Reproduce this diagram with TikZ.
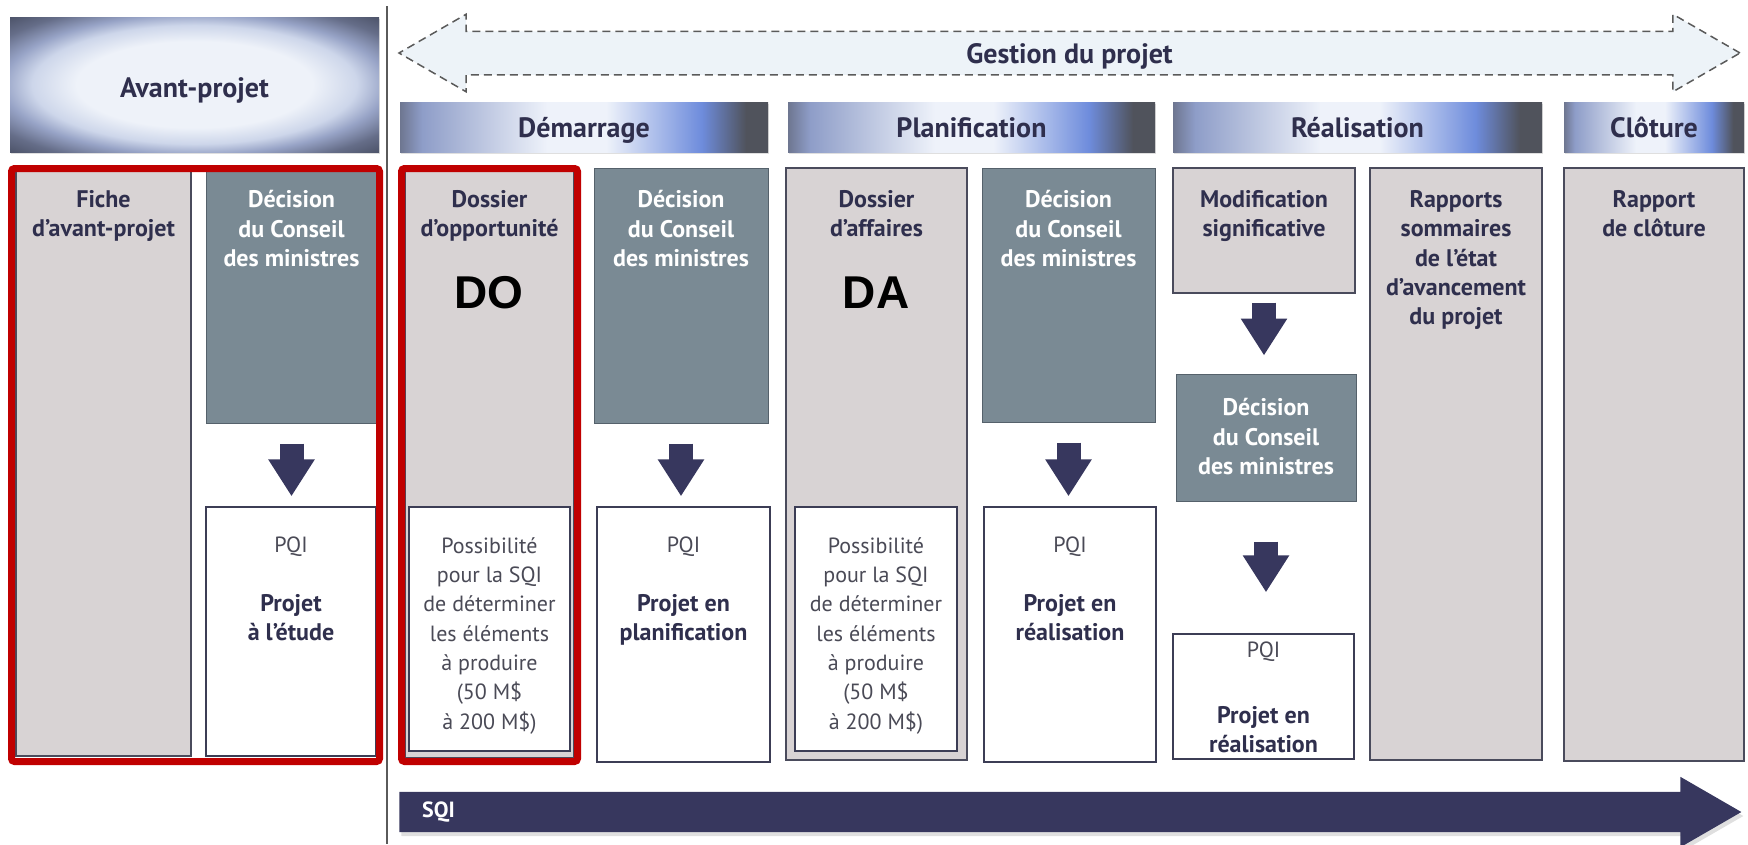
\documentclass[tikz,border=0pt]{standalone}
\usepackage{fontspec}
\setmainfont{PT Sans}
\newfontfamily\tagfont{Liberation Sans}
\usetikzlibrary{shapes,shapes.arrows,arrows.meta,calc,fit,positioning,shadows}

\definecolor{navy}{HTML}{37375E}
\definecolor{txtdark}{HTML}{2F2F4D}
\definecolor{txtgray}{HTML}{4A4A56}
\definecolor{council}{HTML}{7A8A94}
\definecolor{councilline}{HTML}{55616B}
\definecolor{colgray}{HTML}{D8D3D4}
\definecolor{colline}{HTML}{4A4B5C}
\definecolor{pqiline}{HTML}{3C3D55}
\definecolor{framered}{HTML}{C00000}
\definecolor{gestfill}{HTML}{EDF3F8}
\definecolor{gestline}{HTML}{5A5A5A}
\definecolor{hdA}{HTML}{6E7690}
\definecolor{hdB}{HTML}{8E9DC8}
\definecolor{hdC}{HTML}{EEF2FA}
\definecolor{hdD}{HTML}{6E8CDC}
\definecolor{hdE}{HTML}{50535C}
\definecolor{avC}{HTML}{EEF2F9}
\definecolor{avL}{HTML}{CDD6EA}
\definecolor{avM}{HTML}{97A3C6}
\definecolor{avE}{HTML}{656D88}
\definecolor{avK}{HTML}{444A5E}

\pgfdeclarehorizontalshading{phasebar}{100bp}{color(0bp)=(hdA); color(25bp)=(hdA); color(28bp)=(hdB); color(45bp)=(hdC); color(53bp)=(hdC); color(66bp)=(hdD); color(72bp)=(hdE); color(75bp)=(hdE); color(100bp)=(hdE)}
\pgfdeclareradialshading{avantglow}{\pgfpoint{0bp}{0bp}}{color(0bp)=(avC); color(16bp)=(avC); color(22bp)=(avL); color(26bp)=(avM); color(31bp)=(avE); color(37bp)=(avK); color(50bp)=(avK)}

\newcommand{\titlefont}{\fontsize{24pt}{29.3pt}\selectfont\bfseries}
\newcommand{\bodyfont}{\fontsize{22pt}{29.3pt}\selectfont}
\newcommand{\hdfont}{\fontsize{28pt}{32pt}\selectfont\bfseries}
\newcommand{\pj}[1]{{\fontsize{24pt}{29.3pt}\selectfont\bfseries\color{txtdark}#1}}

\tikzset{
    col/.style={draw=colline, fill=colgray, line width=1.4pt, inner sep=0pt},
    council/.style={draw=councilline, fill=council, line width=1pt, inner sep=0pt},
    pqi/.style={draw=pqiline, fill=white, line width=1.4pt, inner sep=0pt},
    frame/.style={draw=framered, line width=7pt, rounded corners=3pt, inner sep=0pt},
    phase/.style={shade, shading=phasebar, inner sep=0pt,
        drop shadow={opacity=0.25, shadow xshift=1pt, shadow yshift=-2pt}},
    avanthd/.style={shade, shading=avantglow, inner sep=0pt,
        drop shadow={opacity=0.25, shadow xshift=1pt, shadow yshift=-2pt}},
    hdtext/.style={inner sep=0pt, font=\hdfont, text=txtdark},
    coltitle/.style={align=center, inner sep=0pt, font=\titlefont, text=txtdark},
    wtitle/.style={coltitle, text=white},
    pqitext/.style={align=center, inner sep=0pt, font=\bodyfont, text=txtgray},
    bigtag/.style={inner sep=0pt, font=\tagfont\fontsize{46pt}{50pt}\selectfont\bfseries, text=black},
    fatarrow/.style={navy, line width=24pt, -{Triangle[length=37pt, width=44pt]}},
    gestarrow/.style={double arrow, draw=gestline, fill=gestfill, line width=1.5pt,
        dash pattern=on 8pt off 5pt, minimum height=1341pt, minimum width=76pt,
        double arrow head extend=17pt, double arrow tip angle=60,
        inner xsep=0pt, inner ysep=11pt, text height=20pt, text depth=0pt, text=txtdark,
        font=\hdfont},
    sqiarrow/.style={single arrow, fill=navy, minimum height=1342pt, minimum width=70pt,
        single arrow head extend=15pt, single arrow tip angle=60, inner sep=0pt,
        text height=40pt, text depth=0pt,
        drop shadow={opacity=0.25, shadow xshift=2pt, shadow yshift=-4pt}},
    sepline/.style={draw=gestline, line width=2pt}
}

\begin{document}
\begin{tikzpicture}[x=1pt, y=-1pt]
    \useasboundingbox (0,0) rectangle (1748,844);

    % gestion du projet
    \node[gestarrow] (gestion) at (1069.5,53) {Gestion du projet};

    % headers
    \node[avanthd, fit={(10,17) (379,152)}] (hdAvant) {};
    \node[hdtext, anchor=base] (tAvant) at (194.5,97) {Avant-projet};
    \node[phase, fit={(400,102) (768,152)}] (hdDem) {};
    \node[phase, fit={(788,102) (1155,152)}] (hdPlan) {};
    \node[phase, fit={(1173,102) (1542,152)}] (hdReal) {};
    \node[phase, fit={(1564,102) (1744,152)}] (hdClot) {};
    \node[hdtext, anchor=base] (tDem) at ([yshift=-10pt]hdDem.center) {Démarrage};
    \node[hdtext, anchor=base] (tPlan) at ([yshift=-10pt]hdPlan.center) {Planification};
    \node[hdtext, anchor=base] (tReal) at ([yshift=-10pt]hdReal.center) {Réalisation};
    \node[hdtext, anchor=base] (tClot) at ([yshift=-10pt]hdClot.center) {Clôture};

    \coordinate (sepTop) at (387,6);
    \coordinate (sepBot) at (387,844);
    \draw[sepline] (sepTop) -- (sepBot);

    % columns
    \node[col, fit={(16,168) (191,756)}] (fiche) {};
    \node[council, fit={(206,168) (377,423)}] (decA) {};
    \node[pqi, fit={(206,507) (376,756)}] (pqiA) {};
    \node[col, fit={(405,168) (574,758)}] (dossO) {};
    \node[pqi, fit={(409,507) (570,751)}] (possO) {};
    \node[council, fit={(594,168) (768,423)}] (decB) {};
    \node[pqi, fit={(597,507) (770,762)}] (pqiB) {};
    \node[col, fit={(786,168) (967,760)}] (dossA) {};
    \node[pqi, fit={(795,507) (957,751)}] (possA) {};
    \node[council, fit={(982,168) (1155,422)}] (decC) {};
    \node[pqi, fit={(984,507) (1156,762)}] (pqiC) {};
    \node[col, fit={(1173,168) (1355,293)}] (modif) {};
    \node[council, fit={(1176,374) (1356,501)}] (decD) {};
    \node[pqi, fit={(1173,634) (1354,759)}] (pqiD) {};
    \node[col, fit={(1370,168) (1542,760)}] (rapp) {};
    \node[col, fit={(1564,168) (1744,761)}] (clot) {};

    \draw[fatarrow] ([yshift=-20pt]decA.south) -- ([yshift=10pt]decA.south |- pqiA.north);
    \draw[fatarrow] ([yshift=-20pt]decB.south) -- ([yshift=10pt]decB.south |- pqiB.north);
    \draw[fatarrow] ([yshift=-20pt]decC.south) -- ([yshift=10pt]decC.south |- pqiC.north);
    \draw[fatarrow] ([yshift=-9pt]modif.south) -- ([yshift=18pt]modif.south |- decD.north);
    \draw[fatarrow] ([yshift=-40pt]decD.south) -- ([yshift=41pt]decD.south |- pqiD.north);

    \node[frame, fit={(11.5,168.5) (379.5,761.5)}] (frAvant) {};
    \node[frame, fit={(401.5,168.5) (577.5,761.5)}] (frDO) {};

    % texts
    \node[coltitle, below=23pt of fiche.north] (tFiche) {Fiche\\d’avant-projet};
    \node[wtitle, below=23pt of decA.north] (tDecA) {Décision\\du Conseil\\des ministres};
    \node[coltitle, below=23pt of dossO.north] (tDossO) {Dossier\\d’opportunité};
    \node[wtitle, below=23pt of decB.north] (tDecB) {Décision\\du Conseil\\des ministres};
    \node[coltitle, below=23pt of dossA.north] (tDossA) {Dossier\\d’affaires};
    \node[wtitle, below=23pt of decC.north] (tDecC) {Décision\\du Conseil\\des ministres};
    \node[coltitle, below=23pt of modif.north] (tModif) {Modification\\significative};
    \node[wtitle, below=25pt of decD.north] (tDecD) {Décision\\du Conseil\\des ministres};
    \node[coltitle, below=23pt of rapp.north] (tRapp) {Rapports\\sommaires\\de l’état\\d’avancement\\du projet};
    \node[coltitle, below=23pt of clot.north] (tClot) {Rapport\\de clôture};

    \node[bigtag, anchor=base] (tagDO) at (489,308) {DO};
    \node[bigtag, anchor=base] (tagDA) at (876,308) {DA};

    \node[pqitext, below=30pt of pqiA.north] (tPqiA) {PQI\\[30pt]\pj{Projet}\\\pj{à l’étude}};
    \node[pqitext, below=31pt of possO.north] (tPossO) {Possibilité\\pour la SQI\\de déterminer\\les éléments\\à produire\\(50 M\$\\à 200 M\$)};
    \node[pqitext, below=30pt of pqiB.north] (tPqiB) {PQI\\[30pt]\pj{Projet en}\\\pj{planification}};
    \node[pqitext, below=31pt of possA.north] (tPossA) {Possibilité\\pour la SQI\\de déterminer\\les éléments\\à produire\\(50 M\$\\à 200 M\$)};
    \node[pqitext, below=30pt of pqiC.north] (tPqiC) {PQI\\[30pt]\pj{Projet en}\\\pj{réalisation}};
    \node[pqitext, below=8pt of pqiD.north] (tPqiD) {PQI\\[37pt]\pj{Projet en}\\\pj{réalisation}};

    % SQI
    \node[sqiarrow, anchor=west] (sqi) at (399,812) {};
    \node[inner sep=0pt, font=\fontsize{22pt}{26pt}\selectfont\bfseries, text=white,
        right=23pt of sqi.west] (tSqi) {SQI};
\end{tikzpicture}
\end{document}
